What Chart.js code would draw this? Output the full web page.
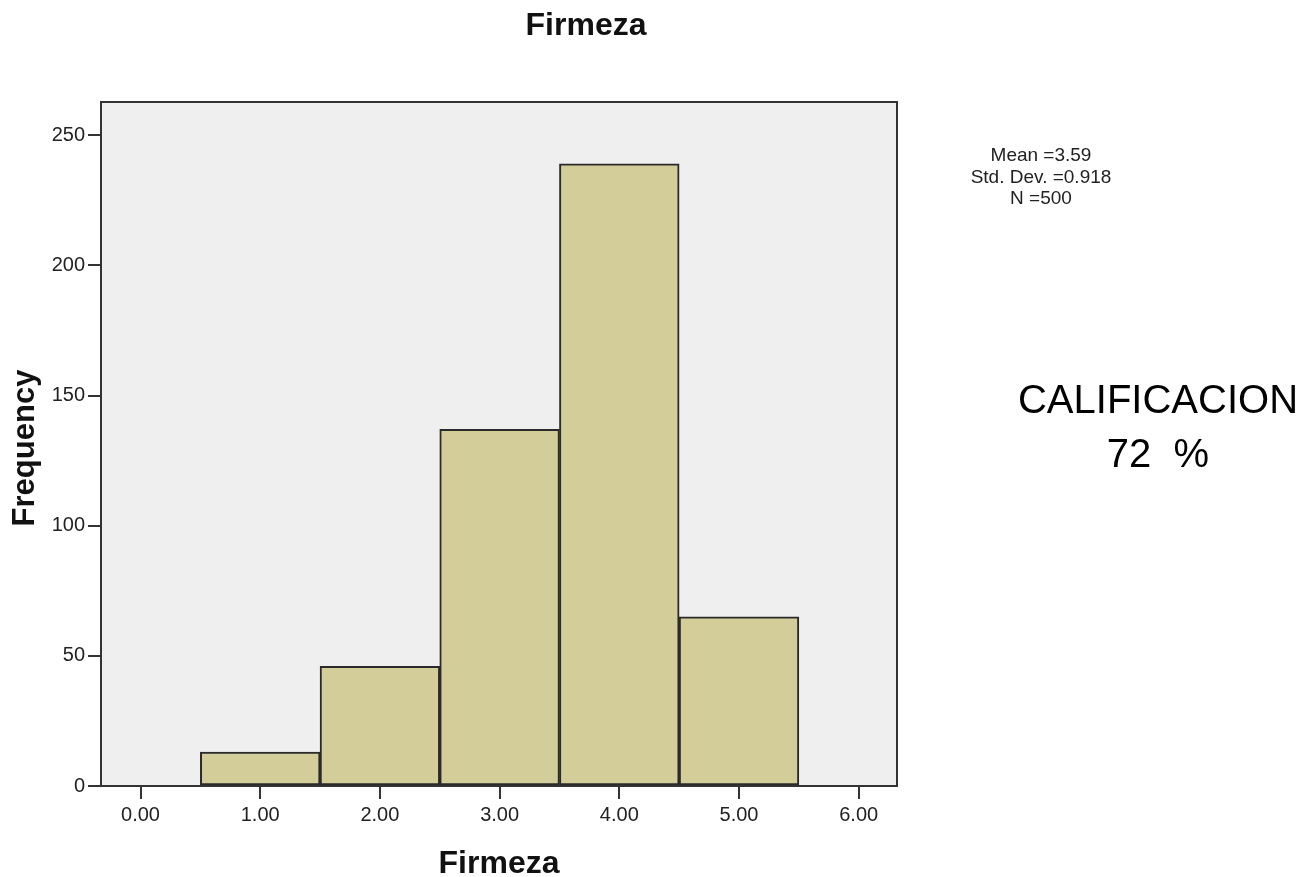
<!DOCTYPE html>
<html>
<head>
<meta charset="utf-8">
<script src="https://cdn.jsdelivr.net/npm/chart.js@4.4.1/dist/chart.umd.min.js"></script>
<style>
  html, body { margin: 0; padding: 0; background: #fff; }
  #wrap { width: 1315px; height: 877px; }
</style>
</head>
<body>
<div id="wrap"><canvas id="hist"></canvas></div>
<script>
// bins (bar centres) and counts
const bins = [1, 2, 3, 4, 5];
const frequencies = [13, 46, 137, 239, 65];
const xTickValues = [0, 1, 2, 3, 4, 5, 6];
const yTickValues = [0, 50, 100, 150, 200, 250];
const statsLines = ['Mean =3.59', 'Std. Dev. =0.918', 'N =500'];
const noteLines = ['CALIFICACION', '72  %'];
const chartTitle = 'Firmeza';
const xTitle = 'Firmeza';
const yTitle = 'Frequency';

const FONT = '"Liberation Sans", Arial, sans-serif';

// plot background + frame
const frame = {
    id: 'frame',
    beforeDatasetsDraw(chart) {
        const a = chart.chartArea, ctx = chart.ctx;
        ctx.save();
        ctx.fillStyle = '#efefef';
        ctx.fillRect(a.left, a.top, a.right - a.left, a.bottom - a.top);
        ctx.restore();
    },
    afterDatasetsDraw(chart) {
        const a = chart.chartArea, ctx = chart.ctx;
        ctx.save();
        ctx.strokeStyle = '#333';
        ctx.lineWidth = 2;
        ctx.strokeRect(a.left, a.top, a.right - a.left, a.bottom - a.top);
        ctx.restore();
    }
};

// titles and side notes
const texts = {
    id: 'texts',
    afterDraw(chart) {
        const ctx = chart.ctx, a = chart.chartArea;
        ctx.save();
        ctx.fillStyle = '#111';
        ctx.textAlign = 'center';
        ctx.textBaseline = 'alphabetic';

        ctx.font = 'bold 32px ' + FONT;
        ctx.fillText(chartTitle, 586, 35);
        ctx.fillText(xTitle, (a.left + a.right) / 2, 873);

        ctx.save();
        ctx.translate(25, 448);
        ctx.rotate(-Math.PI / 2);
        ctx.textBaseline = 'middle';
        ctx.font = 'bold 31px ' + FONT;
        ctx.fillText(yTitle, 0, 0);
        ctx.restore();

        ctx.font = '19px ' + FONT;
        ctx.fillStyle = '#222';
        statsLines.forEach((s, i) => ctx.fillText(s, 1041, 161 + i * 21.5));

        ctx.font = '40px ' + FONT;
        ctx.fillStyle = '#000';
        noteLines.forEach((s, i) => ctx.fillText(s, 1158, 413 + i * 54));
        ctx.restore();
    }
};

const ctx = document.getElementById('hist').getContext('2d');
new Chart(ctx, {
    type: 'bar',
    data: {
        datasets: [{
            label: 'Frequency',
            data: bins.map((b, i) => ({ x: b, y: frequencies[i] })),
            backgroundColor: '#d3ce99',
            borderColor: '#2a2a2a',
            borderWidth: 2,
            borderSkipped: false,
            barPercentage: 1,
            categoryPercentage: 1
        }]
    },
    options: {
        responsive: true,
        maintainAspectRatio: false,
        animation: false,
        layout: { padding: { top: 102, right: 418, bottom: 31, left: 0 } },
        plugins: {
            legend: { display: false },
            tooltip: { enabled: false }
        },
        scales: {
            x: {
                type: 'linear',
                offset: false,
                min: -0.33,
                max: 6.32,
                afterBuildTicks: s => { s.ticks = xTickValues.map(v => ({ value: v })); },
                afterFit: s => { s.height = 60; },
                grid: { offset: false, drawOnChartArea: false, drawTicks: true, tickLength: 13, color: '#333', lineWidth: 2 },
                border: { display: false },
                ticks: {
                    padding: 4,
                    color: '#222',
                    font: { family: FONT, size: 20 },
                    maxRotation: 0,
                    callback: v => Number(v).toFixed(2)
                }
            },
            y: {
                min: 0,
                max: 262.8,
                afterBuildTicks: s => { s.ticks = yTickValues.map(v => ({ value: v })); },
                afterFit: s => { s.width = 101; },
                grid: { drawOnChartArea: false, drawTicks: true, tickLength: 13, color: '#333', lineWidth: 2 },
                border: { display: false },
                ticks: {
                    padding: 3,
                    color: '#222',
                    font: { family: FONT, size: 20 }
                }
            }
        }
    },
    plugins: [frame, texts]
});
</script>
</body>
</html>
